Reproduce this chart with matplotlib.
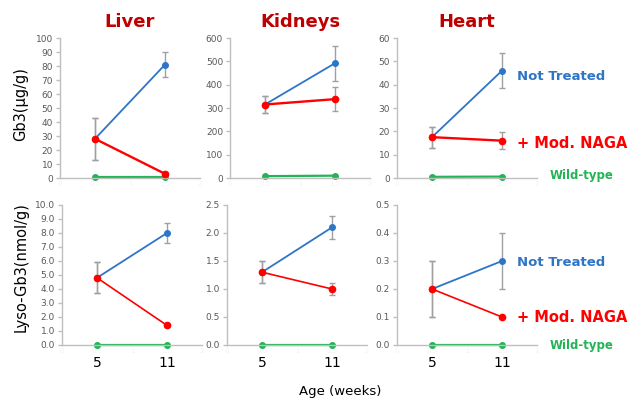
import numpy as np
import matplotlib.pyplot as plt

# ages (weeks) and the two sampling points
ages = ["5", "11"]
xpos = np.arange(len(ages)) + 0.5

organs = ["Liver", "Kidneys", "Heart"]

# Gb3 (ug/g): means and error bars per organ
gb3_nt = [[28, 81], [315, 492], [17.5, 46]]
gb3_nt_err = [[15, 9], [38, 75], [4.5, 7.5]]
gb3_mod = [[28, 3], [315, 338], [17.5, 16]]
gb3_mod_err = [[15, 1], [38, 50], [4.5, 3.7]]
gb3_wt = [[1, 1], [8, 10], [0.5, 0.6]]

# Lyso-Gb3 (nmol/g)
lyso_nt = [[4.8, 8.0], [1.3, 2.1], [0.2, 0.3]]
lyso_nt_err = [[1.1, 0.7], [0.2, 0.2], [0.1, 0.1]]
lyso_mod = [[4.8, 1.4], [1.3, 1.0], [0.2, 0.1]]
lyso_mod_err = [[1.1, 0.12], [0.2, 0.1], [0.1, 0.0]]
lyso_wt = [[0, 0], [0, 0], [0, 0]]

gb3_ylim = [100, 600, 60]
gb3_step = [10, 100, 10]
lyso_ylim = [10, 2.5, 0.5]
lyso_step = [1, 0.5, 0.1]

blue = "#2E75C8"
red = "#FF0000"
green = "#22B455"
gray_err = "#A0A0A0"
axis_gray = "#BFBFBF"
tick_gray = "#595959"

fig = plt.figure(figsize=(6.38, 4.01), dpi=100)

top_left = [60, 230, 397]
bot_left = [62, 227, 397]
W, H = 638, 401


def make_ax(left_px, top_px, bottom_px, width_px):
    return fig.add_axes([left_px / W, (H - bottom_px) / H, width_px / W, (bottom_px - top_px) / H])


def draw(ax, nt, nt_err, mod, mod_err, wt, ymax, step, fmt, bottom_row):
    ax.errorbar(xpos, nt, yerr=nt_err, fmt="none", ecolor=gray_err, elinewidth=1, capsize=2, zorder=1)
    ax.errorbar(xpos, mod, yerr=mod_err, fmt="none", ecolor=gray_err, elinewidth=1, capsize=2, zorder=1)
    ax.plot(xpos, wt, color=green, lw=1.6, marker="o", ms=4, zorder=2, clip_on=False)
    ax.plot(xpos, nt, color=blue, lw=1.3, marker="o", ms=4, zorder=3)
    ax.plot(xpos, mod, color=red, lw=1.2 if bottom_row else 1.7, marker="o", ms=4.5, zorder=4)
    ax.set_xlim(0, 2)
    ax.set_ylim(0, ymax)
    ticks = np.arange(0, ymax + step / 2, step)
    ax.set_yticks(ticks)
    ax.set_yticklabels([fmt.format(t) for t in ticks], fontsize=6.5, color=tick_gray)
    ax.set_xticks([0, 0.5, 1, 1.5, 2])
    ax.set_xticklabels(["0", "0.5", "1", "1.5", "2"], fontsize=5, color="#F2F2F2")
    for s in ["top", "right"]:
        ax.spines[s].set_visible(False)
    for s in ["left", "bottom"]:
        ax.spines[s].set_color(axis_gray)
        ax.spines[s].set_linewidth(1)
    ax.tick_params(axis="y", color=axis_gray, length=3, width=1, pad=2)
    ax.tick_params(axis="x", length=0, pad=2)
    if bottom_row:
        for x, a in zip(xpos, ages):
            ax.text(x, -0.13, a, transform=ax.get_xaxis_transform(), ha="center", va="center",
                    fontsize=10, color="black")


for i, organ in enumerate(organs):
    ax = make_ax(top_left[i], 38, 178, 140)
    draw(ax, gb3_nt[i], gb3_nt_err[i], gb3_mod[i], gb3_mod_err[i], gb3_wt[i],
         gb3_ylim[i], gb3_step[i], "{:.0f}", False)
    ax.set_title(organ, fontsize=13, fontweight="bold", color="#C00000", pad=8)

    ax = make_ax(bot_left[i], 205, 345, 140)
    draw(ax, lyso_nt[i], lyso_nt_err[i], lyso_mod[i], lyso_mod_err[i], lyso_wt[i],
         lyso_ylim[i], lyso_step[i], "{:.1f}", True)

# y labels
fig.text(21 / W, 1 - 104 / H, "Gb3(\u03bcg/g)", rotation=90, ha="center", va="center", fontsize=10.5)
fig.text(21 / W, 1 - 267 / H, "Lyso-Gb3(nmol/g)", rotation=90, ha="center", va="center", fontsize=10.5)
fig.text(340 / W, 1 - 392 / H, "Age (weeks)", ha="center", va="center", fontsize=9.5)

# series labels
for yt, yn, yw in [(76, 143, 176), (262, 317, 345)]:
    fig.text(517 / W, 1 - yt / H, "Not Treated", ha="left", va="center", fontsize=9.5,
             fontweight="bold", color=blue)
    fig.text(517 / W, 1 - yn / H, "+ Mod. NAGA", ha="left", va="center", fontsize=10.5,
             fontweight="bold", color=red)
    fig.text(550 / W, 1 - yw / H, "Wild-type", ha="left", va="center", fontsize=8.5,
             fontweight="bold", color=green)

fig.savefig("out.png", dpi=100)
